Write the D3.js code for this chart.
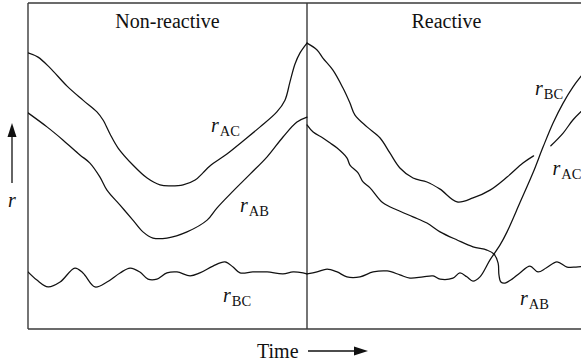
<!DOCTYPE html>
<html>
<head>
<meta charset="utf-8">
<script src="https://cdn.jsdelivr.net/npm/d3@7/dist/d3.min.js"></script>
<style>
  html, body { margin: 0; padding: 0; background: #fff; }
  svg { display: block; }
  text { font-family: "Liberation Serif", "DejaVu Serif", serif; fill: #111; }
</style>
</head>
<body>
<svg id="chart" width="581" height="364"></svg>
<script>
// ---- Data (time: 0-100 non-reactive, 100-200 reactive; r in arbitrary units 0-100) ----
const panels = ["Non-reactive", "Reactive"];
const axisLabelX = "Time";
const axisLabelY = "r";

// Non-reactive panel
const nrAC_t = [0, 3.6, 7.9, 14.0, 19.7, 24.7, 26.9, 29.4, 32.3, 37.6, 42.7, 47.3, 50.9, 55.6, 59.9, 62.7, 65.2, 71.3, 77.1, 83.2, 89.2, 92.1, 93.9, 95.7, 97.5, 100];
const nrAC_r = [84.7, 83.4, 80.1, 74.5, 70.2, 66.6, 64.1, 59.8, 55.5, 50.3, 46.3, 44.2, 43.9, 44.2, 45.7, 47.9, 50.0, 53.7, 57.7, 62.0, 66.6, 70.2, 75.8, 81.3, 84.7, 87.7];

const nrAB_t = [0, 6.8, 12.5, 18.6, 22.2, 25.8, 28.3, 33.0, 37.6, 41.2, 44.8, 49.8, 57.0, 64.2, 67.7, 73.5, 79.6, 85.7, 91.4, 96.4, 100];
const nrAB_r = [66.3, 62.0, 58.0, 53.4, 50.9, 46.6, 42.6, 38.0, 33.4, 29.8, 27.9, 27.9, 29.8, 33.4, 37.1, 42.3, 47.5, 52.8, 58.9, 63.5, 65.0];

const nrBC_t = [0, 3.2, 7.2, 11.5, 16.8, 19.7, 24.0, 28.3, 33.0, 36.6, 40.1, 43.0, 46.2, 49.8, 53.4, 58.1, 61.6, 66.3, 70.6, 73.5, 76.0, 80.6, 85.7, 91.4, 95.0, 98.6, 100];
const nrBC_r = [17.5, 15.0, 12.9, 14.4, 18.7, 17.2, 12.9, 14.4, 17.2, 18.7, 17.5, 15.3, 15.3, 17.2, 17.5, 16.3, 17.2, 19.3, 20.6, 19.0, 17.2, 17.5, 17.5, 16.9, 17.5, 17.2, 16.9];

// Reactive panel (null = gap where r_AC passes behind r_BC)
const rAC_t = [100, 103.6, 105.7, 109.3, 112.9, 115.4, 117.2, 121.5, 126.2, 129.7, 133.3, 138.0, 143.0, 147.7, 153.8, 159.5, 165.6, 171.7, 177.4, 181.2, 184.2, 187.4, 191.8, 195.3, 200];
const rAC_r = [87.7, 85.6, 83.1, 79.4, 73.9, 69.3, 65.6, 62.0, 58.6, 54.0, 49.4, 46.3, 45.1, 42.9, 39.0, 40.2, 42.6, 46.6, 50.9, 53.1, null, 56.2, 60.1, 64.1, 68.1];

const rAB_t = [100, 102.2, 105.7, 108.2, 110.8, 114.3, 115.4, 118.3, 120.1, 122.6, 127.2, 132.3, 138.0, 143.0, 147.7, 153.8, 159.5, 164.5, 167.0, 168.5, 168.8, 169.5, 171.0, 173.5, 176.3, 179.9, 182.8, 185.7, 189.6, 193.2, 196.4, 200];
const rAB_r = [62.6, 60.4, 58.6, 57.1, 55.5, 52.5, 50.3, 47.9, 45.1, 43.3, 38.7, 36.5, 34.4, 32.5, 29.8, 27.3, 25.2, 24.2, 23.0, 20.2, 16.6, 14.4, 14.1, 15.3, 17.2, 19.3, 17.5, 18.7, 20.6, 19.0, 19.0, 19.3];

const rBC_t = [100, 103.6, 107.2, 110.8, 114.3, 119.0, 123.7, 128.7, 133.3, 136.9, 141.6, 145.2, 147.7, 152.3, 154.8, 157.3, 159.5, 162.0, 165.6, 169.2, 171.7, 176.3, 181.0, 184.6, 188.2, 191.8, 195.3, 200];
const rBC_r = [16.9, 17.5, 18.4, 17.5, 16.0, 16.0, 17.5, 17.8, 16.6, 15.6, 16.0, 16.3, 15.3, 15.6, 17.2, 16.0, 14.7, 16.0, 21.2, 25.8, 29.8, 38.7, 47.9, 55.8, 63.2, 69.3, 74.2, 79.4];

const seriesNames = ["AC", "AB", "BC", "BC", "AC", "AB"];

// ---- Layout ----
const svg = d3.select("#chart");
const x = d3.scaleLinear().domain([0, 200]).range([28, 586]);
const y = d3.scaleLinear().domain([0, 100]).range([329, 3]);

const zip = (t, r) => t.map((v, i) => ({t: v, r: r[i]}));
const line = d3.line()
  .defined(d => d.r !== null)
  .x(d => x(d.t)).y(d => y(d.r))
  .curve(d3.curveCatmullRom.alpha(0.5));

svg.append("defs").append("clipPath").attr("id", "plotclip")
  .append("rect").attr("x", x(0)).attr("y", y(100)).attr("width", x(200) - x(0)).attr("height", y(0) - y(100));

// Frame
const frameColor = "#3a3a3a";
const frame = svg.append("g").attr("stroke", frameColor).attr("stroke-width", 1.4).attr("fill", "none");
frame.append("line").attr("x1", x(0)).attr("x2", x(200)).attr("y1", y(100)).attr("y2", y(100));
frame.append("line").attr("x1", x(0)).attr("x2", x(200)).attr("y1", y(0)).attr("y2", y(0));
frame.append("line").attr("x1", x(0)).attr("x2", x(0)).attr("y1", y(100)).attr("y2", y(0));
frame.append("line").attr("x1", x(100)).attr("x2", x(100)).attr("y1", y(100)).attr("y2", y(0));

// Curves
const curves = svg.append("g").attr("clip-path", "url(#plotclip)")
  .attr("fill", "none").attr("stroke", "#111").attr("stroke-width", 1.25)
  .attr("stroke-linejoin", "round").attr("stroke-linecap", "round");
[[nrAC_t, nrAC_r], [nrAB_t, nrAB_r], [nrBC_t, nrBC_r], [rAC_t, rAC_r], [rAB_t, rAB_r], [rBC_t, rBC_r]]
  .forEach(([t, r]) => curves.append("path").attr("d", line(zip(t, r))));

// Panel titles
svg.append("text").attr("x", x(50)).attr("y", 28).attr("text-anchor", "middle")
  .attr("font-size", 20).text(panels[0]);
svg.append("text").attr("x", x(150)).attr("y", 28).attr("text-anchor", "middle")
  .attr("font-size", 20).text(panels[1]);

// Curve labels (r with subscript)
const labelPos = [[65.6, 60.4], [76.0, 35.9], [69.9, 8.3], [181.7, 71.8], [188.0, 47.2], [176.3, 7.4]];
labelPos.forEach(([t, r], i) => {
  const tx = svg.append("text").attr("x", x(t)).attr("y", y(r));
  tx.append("tspan").attr("font-style", "italic").attr("font-size", 20).text("r");
  tx.append("tspan").attr("font-size", 14.5).attr("dx", 1).attr("dy", 4).text(seriesNames[i]);
});

// Y axis arrow and label
const arrow = svg.append("g").attr("stroke", "#111").attr("fill", "#111");
arrow.append("line").attr("x1", 12).attr("x2", 12).attr("y1", 183).attr("y2", 132).attr("stroke-width", 1.3);
arrow.append("path").attr("d", d3.line()([[12, 123], [7.5, 137], [16.5, 137]]) + "Z").attr("stroke", "none");
svg.append("text").attr("x", 12).attr("y", 207).attr("text-anchor", "middle")
  .attr("font-style", "italic").attr("font-size", 20).text(axisLabelY);

// X axis label and arrow
svg.append("text").attr("x", 257).attr("y", 358).attr("font-size", 20).text(axisLabelX);
arrow.append("line").attr("x1", 308).attr("x2", 358).attr("y1", 351).attr("y2", 351).attr("stroke-width", 1.3);
arrow.append("path").attr("d", d3.line()([[368, 351], [354, 346.5], [354, 355.5]]) + "Z").attr("stroke", "none");
</script>
</body>
</html>
